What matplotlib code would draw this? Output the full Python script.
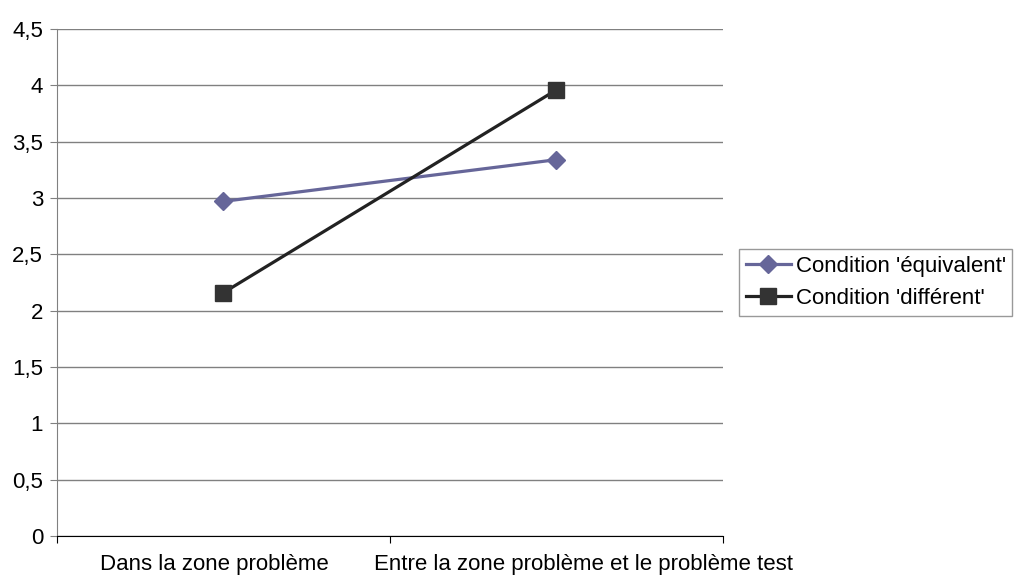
import matplotlib.pyplot as plt
from matplotlib.ticker import FuncFormatter
from matplotlib.transforms import ScaledTranslation

plt.rcParams['font.family'] = ['Liberation Sans', 'DejaVu Sans']

categories = ["Dans la zone problème", "Entre la zone problème et le problème test"]
equivalent = [2.97, 3.34]
different = [2.16, 3.96]
series_names = ["Condition 'équivalent'", "Condition 'différent'"]

fig = plt.figure(figsize=(10.16, 5.75), dpi=100)
ax = fig.add_axes([0.0561, 0.0678, 0.6555, 0.8818])

x = [i + 0.5 for i in range(len(categories))]
ax.plot(x, equivalent, color="#666699", lw=2.3, marker="D", ms=9.5,
        mec="#666699", mfc="#666699", label=series_names[0], zorder=3)
ax.plot(x, different, color="#222222", lw=2.3, marker="s", ms=11,
        mec="#333333", mfc="#333333", label=series_names[1], zorder=3)

ax.set_xlim(0, len(categories))
ax.set_ylim(0, 4.5)
ax.set_yticks([i * 0.5 for i in range(10)])
ax.yaxis.set_major_formatter(FuncFormatter(lambda v, p: f"{v:g}".replace(".", ",")))
ax.grid(axis="y", color="#808080", lw=1)
ax.set_axisbelow(True)

ax.set_xticks(range(len(categories) + 1))
ax.set_xticklabels([])
ax.set_xticks(x, minor=True)
ax.set_xticklabels(categories, minor=True)
ax.tick_params(axis="x", which="minor", length=0, pad=13, labelsize=16)
ax.tick_params(axis="x", which="major", length=5, direction="out", color="black")
ax.tick_params(axis="y", length=5, direction="out", color="#808080", labelsize=16, pad=5)

# Excel-style label placement: nudge the category labels sideways a bit
shifts = [-9, 27]
for lab, dx in zip(ax.get_xticklabels(minor=True), shifts):
    lab.set_transform(lab.get_transform() + ScaledTranslation(dx / 100, 0, fig.dpi_scale_trans))

for s in ["top", "right"]:
    ax.spines[s].set_visible(False)
ax.spines["left"].set_color("#808080")
ax.spines["bottom"].set_color("black")

leg = ax.legend(loc="center left", bbox_to_anchor=(1.024, 0.5), frameon=True,
                fancybox=False, fontsize=16, handlelength=2.05,
                borderpad=0.3, labelspacing=0.5, handletextpad=0.2,
                borderaxespad=0)
leg.get_frame().set_edgecolor("#808080")
leg.get_frame().set_linewidth(1)

fig.savefig("out.png", dpi=100)
